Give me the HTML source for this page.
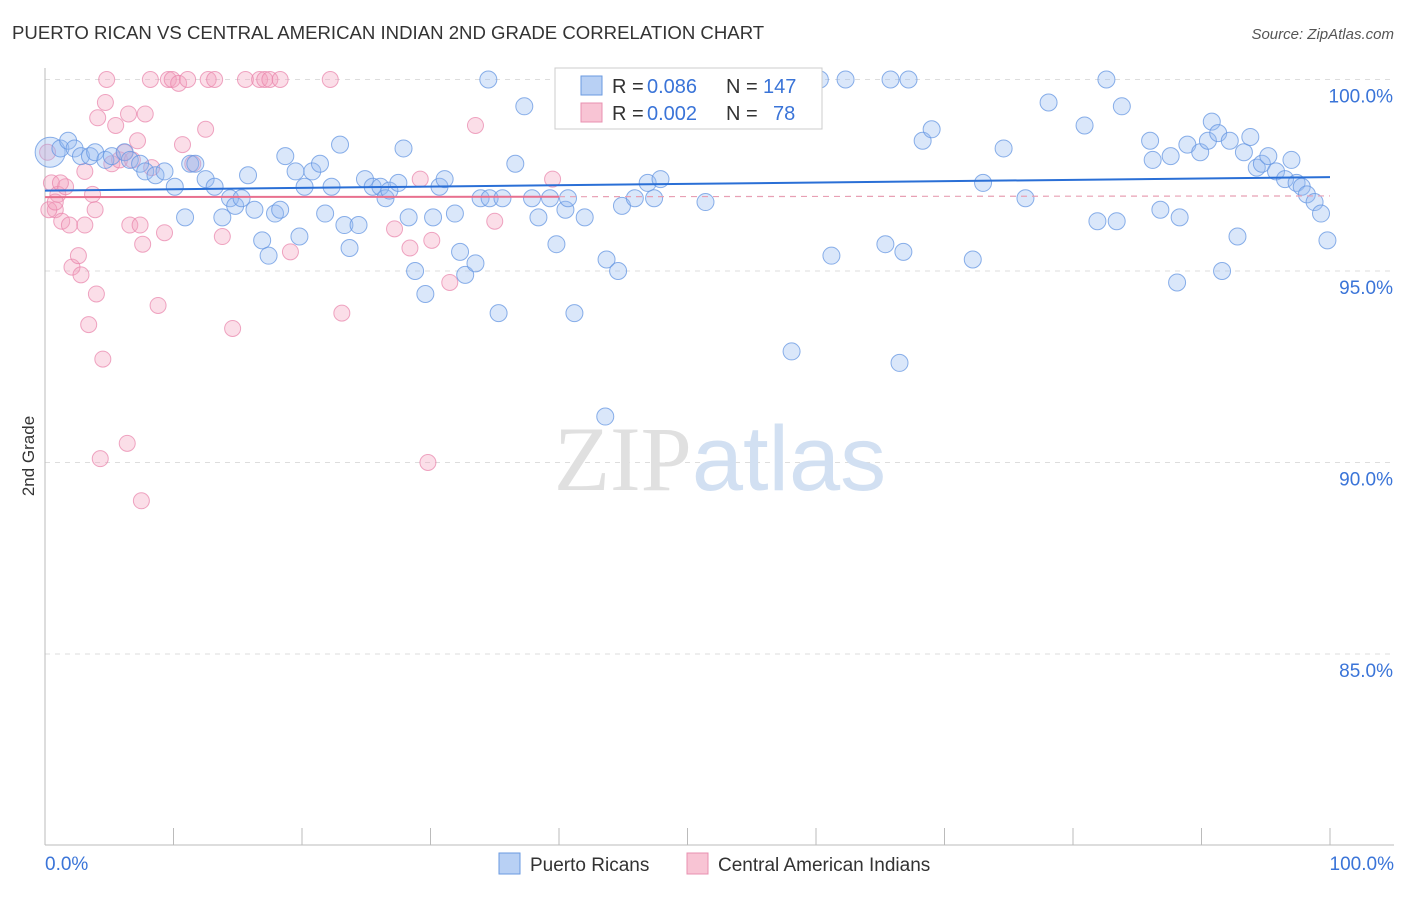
<!DOCTYPE html>
<html><head><meta charset="utf-8"><style>
body{margin:0;background:#fff;font-family:"Liberation Sans",sans-serif;}
svg text{font-family:"Liberation Sans",sans-serif;}
</style></head><body>
<svg width="1406" height="892" xmlns="http://www.w3.org/2000/svg" id="chart">
<text x="12" y="39" font-size="18.6" fill="#333">PUERTO RICAN VS CENTRAL AMERICAN INDIAN 2ND GRADE CORRELATION CHART</text>
<text x="1394" y="39" font-size="15" fill="#555" text-anchor="end" font-style="italic">Source: ZipAtlas.com</text>
<text transform="translate(34,456) rotate(-90)" font-size="17" fill="#333" text-anchor="middle">2nd Grade</text>
<g id="grid"></g>
<text x="720" y="490" font-size="92" text-anchor="middle"><tspan fill="#e0e0e0" font-family="Liberation Serif">ZIP</tspan><tspan fill="#d2e0f2">atlas</tspan></text>
<g id="pts"></g>
<g id="lines"></g>
<g>
<rect x="555" y="68" width="267" height="61" fill="#fff" stroke="#ccc"/>
<rect x="581" y="76" width="21" height="19" fill="#b8d0f4" stroke="#6a9ae0"/>
<rect x="581" y="103" width="21" height="19" fill="#f8c4d4" stroke="#e890b0"/>
<text x="612" y="93" font-size="20" fill="#333">R =</text>
<text x="647" y="93" font-size="20" fill="#3a74d8">0.086</text>
<text x="726" y="93" font-size="20" fill="#333">N =</text>
<text x="763" y="93" font-size="20" fill="#3a74d8">147</text>
<text x="612" y="120" font-size="20" fill="#333">R =</text>
<text x="647" y="120" font-size="20" fill="#3a74d8">0.002</text>
<text x="726" y="120" font-size="20" fill="#333">N =</text>
<text x="773" y="120" font-size="20" fill="#3a74d8">78</text>
</g>
<g>
<rect x="499" y="853" width="21" height="21" fill="#b8d0f4" stroke="#6a9ae0"/>
<text x="530" y="871" font-size="19" fill="#333">Puerto Ricans</text>
<rect x="687" y="853" width="21" height="21" fill="#f8c4d4" stroke="#e890b0"/>
<text x="718" y="871" font-size="19" fill="#333">Central American Indians</text>
</g>
</svg>
<script>
const yTicks=[100,95,90,85];
const xTickLabels=["0.0%","100.0%"];
const blueX=[0.4,1.2,1.8,2.3,2.8,3.5,3.9,4.7,5.2,6.2,6.6,7.4,7.8,8.6,9.3,10.1,10.9,11.3,11.7,12.5,13.2,13.8,14.4,14.8,15.3,15.8,16.3,16.9,17.4,17.9,18.3,18.7,19.5,19.8,20.2,20.8,21.4,21.8,22.3,22.96,23.3,23.7,24.4,24.9,25.5,26.1,26.5,26.8,27.5,27.9,28.3,28.8,29.6,30.2,30.7,31.1,31.9,32.3,32.7,33.5,33.9,34.5,34.6,35.3,35.6,36.6,37.3,37.9,38.4,39.3,39.8,40.5,40.7,41.2,42.0,43.6,43.7,44.6,44.9,45.9,46.9,47.4,47.9,49.0,51.4,53.3,58.1,59.5,60.3,61.2,62.3,65.4,65.8,66.5,66.8,67.2,68.3,69.0,72.2,73.0,74.6,76.3,78.1,80.9,81.9,82.6,83.4,83.8,86.0,86.2,86.8,87.6,88.1,88.3,88.9,89.9,90.5,90.8,91.3,91.6,92.2,92.8,93.3,93.8,94.3,94.7,95.2,95.8,96.5,97.0,97.4,97.8,98.2,98.8,99.3,99.8];
const blueY=[98.1,98.2,98.4,98.2,98.0,98.0,98.1,97.9,98.0,98.1,97.9,97.8,97.6,97.5,97.6,97.2,96.4,97.8,97.8,97.4,97.2,96.4,96.9,96.7,96.9,97.5,96.6,95.8,95.4,96.5,96.6,98.0,97.6,95.9,97.2,97.6,97.8,96.5,97.2,98.3,96.2,95.6,96.2,97.4,97.2,97.2,96.9,97.1,97.3,98.2,96.4,95.0,94.4,96.4,97.2,97.4,96.5,95.5,94.9,95.2,96.9,100,96.9,93.9,96.9,97.8,99.3,96.9,96.4,96.9,95.7,96.6,96.9,93.9,96.4,91.2,95.3,95.0,96.7,96.9,97.3,96.9,97.4,100,96.8,100,92.9,100,100,95.4,100,95.7,100,92.6,95.5,100,98.4,98.7,95.3,97.3,98.2,96.9,99.4,98.8,96.3,100,96.3,99.3,98.4,97.9,96.6,98.0,94.7,96.4,98.3,98.1,98.4,98.9,98.6,95.0,98.4,95.9,98.1,98.5,97.7,97.8,98.0,97.6,97.4,97.9,97.3,97.2,97.0,96.8,96.5,95.8];
const pinkX=[0.2,0.5,0.8,1.0,1.3,1.6,1.9,2.1,2.6,2.8,3.1,3.1,3.4,3.7,3.9,4.0,4.1,4.3,4.5,4.7,4.8,5.2,5.5,5.8,6.2,6.4,6.5,6.6,6.8,7.2,7.4,7.5,7.6,7.8,8.2,8.3,8.8,9.3,9.6,9.9,10.4,10.7,11.1,11.5,12.5,12.7,13.2,13.8,14.6,15.6,16.7,17.1,17.5,18.3,19.1,22.2,23.1,27.2,28.4,29.2,29.8,30.1,31.5,33.5,35.0,39.5,0.3,0.8,1.2];
const pinkY=[98.1,97.3,96.6,97.0,96.3,97.2,96.2,95.1,95.4,94.9,97.6,96.2,93.6,97.0,96.6,94.4,99.0,90.1,92.7,99.4,100,97.8,98.8,97.9,98.1,90.5,99.1,96.2,97.9,98.4,96.2,89.0,95.7,99.1,100,97.7,94.1,96.0,100,100,99.9,98.3,100,97.8,98.7,100,100,95.9,93.5,100,100,100,100,100,95.5,100,93.9,96.1,95.6,97.4,90.0,95.8,94.7,98.8,96.3,97.4,96.6,96.8,97.3];
const X0=45,X1=1330,Y100=79.5,PER=38.3;
const xs=v=>X0+(X1-X0)*v/100;
const ys=v=>Y100+(100-v)*PER;
const NS="http://www.w3.org/2000/svg";
function mk(t,a,p){const e=document.createElementNS(NS,t);for(const k in a)e.setAttribute(k,a[k]);p.appendChild(e);return e;}
const grid=document.getElementById('grid');
yTicks.forEach(v=>{
 const l=mk('line',{x1:45,x2:1394,y1:ys(v),y2:ys(v),stroke:'#ddd','stroke-dasharray':'5,5'},grid);
 
 
 const t=mk('text',{x:1393,y:ys(v)+23,'font-size':19,fill:'#3a74d8','text-anchor':'end'},grid);
 t.textContent=v.toFixed(1)+'%';
 
 
});
mk('line',{x1:45,x2:45,y1:68,y2:845,stroke:'#bbb'},grid);
mk('line',{x1:45,x2:1394,y1:845,y2:845,stroke:'#bbb'},grid);
for(let i=0;i<=10;i++){const tk=mk('line',{x1:xs(i*10),x2:xs(i*10),y1:828,y2:845,stroke:'#bbb'},grid);
 
 }
const t0=mk('text',{x:45,y:870,'font-size':19,fill:'#3a74d8'},grid);t0.textContent=xTickLabels[0];


const t1=mk('text',{x:1394,y:870,'font-size':19,fill:'#3a74d8','text-anchor':'end'},grid);t1.textContent=xTickLabels[1];


const pts=document.getElementById('pts');
pinkX.forEach((x,i)=>{const c=mk('circle',{cx:xs(x),cy:ys(pinkY[i]),r:8,fill:'rgba(244,160,190,0.35)',stroke:'rgba(232,130,170,0.7)','stroke-width':1},pts);
 
 });
blueX.forEach((x,i)=>{const c=mk('circle',{cx:xs(x),cy:ys(blueY[i]),r:i==0?15:8.5,fill:'rgba(150,185,240,0.35)',stroke:'rgba(100,150,225,0.75)','stroke-width':1},pts);
 
 });
const lines=document.getElementById('lines');
const bl=mk('line',{x1:xs(0),x2:xs(100),y1:ys(97.1),y2:ys(97.45),stroke:'#2a6fd6','stroke-width':2},lines);


const pl=mk('line',{x1:xs(0),x2:xs(40),y1:ys(96.93),y2:ys(96.94),stroke:'#e8708f','stroke-width':2},lines);


const pd=mk('line',{x1:xs(40),x2:xs(100),y1:ys(96.94),y2:ys(96.96),stroke:'#e8a0b4','stroke-width':1.2,'stroke-dasharray':'6,5'},lines);


</script>
</body></html>
